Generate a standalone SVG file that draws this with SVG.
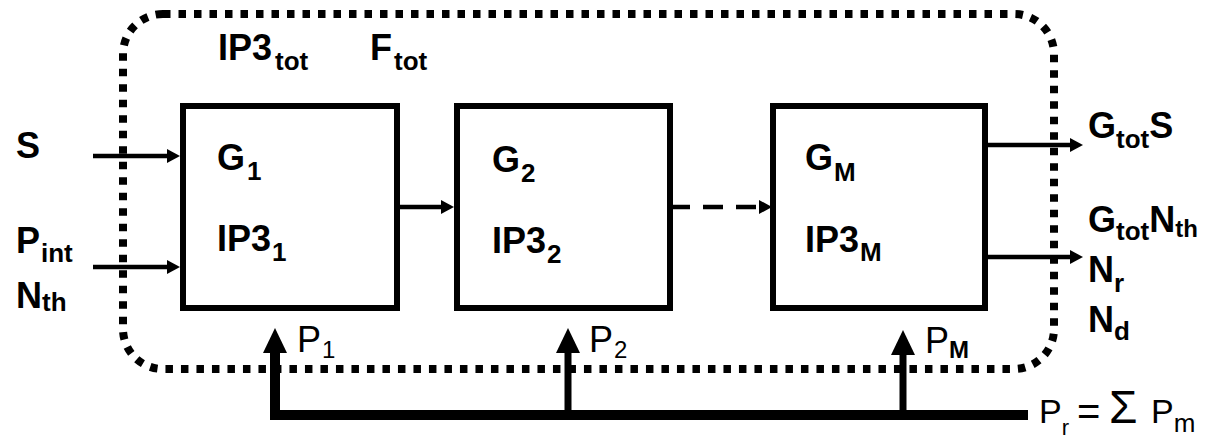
<svg xmlns="http://www.w3.org/2000/svg" width="1207" height="439" viewBox="0 0 1207 439">
<style>
.t{font-family:"Liberation Sans",Arial,sans-serif;font-weight:bold;font-size:36px;fill:#000}
.r{font-family:"Liberation Sans",Arial,sans-serif;font-weight:normal;font-size:36px;fill:#000}
.s{font-size:26px}
.box{fill:#fff;stroke:#000;stroke-width:6}
.ln{stroke:#000;stroke-width:4.5;fill:none}
.big{stroke:#000;stroke-width:7;fill:none}
</style>
<defs>
<marker id="a" viewBox="0 0 13 14" refX="3" refY="7" markerWidth="13" markerHeight="14" markerUnits="userSpaceOnUse" orient="auto">
<path d="M0,0 L13,7 L0,14 z" fill="#000"/>
</marker>
<marker id="A" viewBox="0 0 25 24" refX="15" refY="12" markerWidth="25" markerHeight="24" markerUnits="userSpaceOnUse" orient="auto">
<path d="M0,0 L25,12 L0,24 z" fill="#000"/>
</marker>
</defs>
<rect width="1207" height="439" fill="#fff"/>

<g id="boundary">
<rect x="123" y="14" width="931" height="355" rx="40" ry="40" fill="none" stroke="#000" stroke-width="8" stroke-dasharray="7.5 8"/>
<text class="t" x="218" y="60">IP3<tspan class="s" dx="3" dy="10">tot</tspan></text>
<text class="t" x="370" y="60">F<tspan class="s" dx="2" dy="10">tot</tspan></text>
</g>

<g id="connectors">
<line class="ln" x1="93" y1="156" x2="170" y2="156" marker-end="url(#a)"/>
<line class="ln" x1="93" y1="267" x2="170" y2="267" marker-end="url(#a)"/>
<line class="ln" x1="397" y1="207" x2="444" y2="207" marker-end="url(#a)"/>
<line class="ln" x1="670" y1="207" x2="762" y2="207" stroke-dasharray="20 13" marker-end="url(#a)"/>
<line class="ln" x1="985" y1="145" x2="1073" y2="145" marker-end="url(#a)"/>
<line class="ln" x1="985" y1="257" x2="1073" y2="257" marker-end="url(#a)"/>
<polyline points="275,340 275,415 1028,415" fill="none" stroke="#000" stroke-width="10" stroke-linejoin="miter"/>
<line class="big" x1="275" y1="415" x2="275" y2="338" marker-end="url(#A)"/>
<line class="big" x1="568" y1="415" x2="568" y2="338" marker-end="url(#A)"/>
<line class="big" x1="903" y1="415" x2="903" y2="340" marker-end="url(#A)"/>
</g>

<g id="box1">
<rect class="box" x="183" y="106" width="214" height="202"/>
<text class="t" x="217" y="170">G<tspan class="s" dx="2" dy="10">1</tspan></text>
<text class="t" x="217" y="251">IP3<tspan class="s" dx="1" dy="10">1</tspan></text>
</g>
<g id="box2">
<rect class="box" x="457" y="106" width="213" height="202"/>
<text class="t" x="492" y="172">G<tspan class="s" dx="1" dy="10">2</tspan></text>
<text class="t" x="492" y="253">IP3<tspan class="s" dx="1" dy="10">2</tspan></text>
</g>
<g id="boxM">
<rect class="box" x="773" y="106" width="212" height="202"/>
<text class="t" x="805" y="170">G<tspan class="s" dx="1" dy="11">M</tspan></text>
<text class="t" x="805" y="252">IP3<tspan class="s" dx="1" dy="9">M</tspan></text>
</g>

<g id="inputs">
<text class="t" x="16" y="158">S</text>
<text class="t" x="16" y="253">P<tspan class="s" dx="1" dy="9">int</tspan></text>
<text class="t" x="16" y="308">N<tspan class="s" dx="0" dy="3">th</tspan></text>
</g>

<g id="outputs">
<text class="t" x="1088" y="138">G<tspan class="s" dy="10">tot</tspan><tspan dy="-10">S</tspan></text>
<text class="t" x="1088" y="232">G<tspan class="s" dy="8">tot</tspan><tspan dy="-8">N</tspan><tspan class="s" style="font-size:24px" dy="5">th</tspan></text>
<text class="t" x="1088" y="282">N<tspan class="s" dy="10">r</tspan></text>
<text class="t" x="1088" y="332">N<tspan class="s" dy="8">d</tspan></text>
</g>

<g id="powers">
<text class="r" x="297" y="352">P<tspan style="font-size:24px" dx="1" dy="6">1</tspan></text>
<text class="r" x="589" y="352">P<tspan style="font-size:24px" dx="1" dy="6">2</tspan></text>
<text class="r" x="925" y="353">P<tspan style="font-size:24px;font-weight:bold" dy="5">M</tspan></text>
<text class="r" x="1039" y="423" style="font-size:34px">P<tspan style="font-size:22px" dy="12">r</tspan></text>
<text class="r" x="1077" y="425" style="font-size:40px">=</text>
<text class="r" x="1109" y="423" style="font-size:46px">Σ</text>
<text class="r" x="1151" y="423" style="font-size:34px">P<tspan style="font-size:26px" dy="9">m</tspan></text>
</g>
</svg>
